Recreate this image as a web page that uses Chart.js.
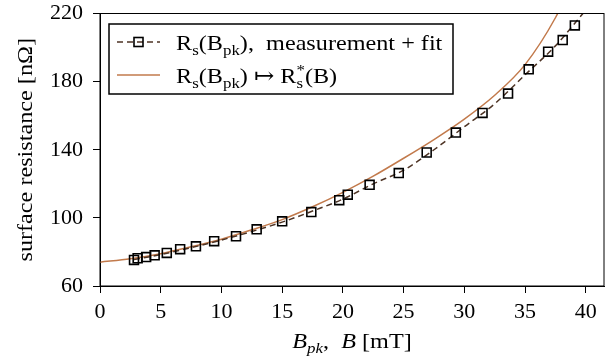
<!DOCTYPE html>
<html>
<head>
<meta charset="utf-8">
<script src="https://cdn.jsdelivr.net/npm/chart.js@4"></script>
<style>
  body { margin: 0; background: #fff; }
  canvas { display: block; }
</style>
</head>
<body>
<canvas id="myChart" width="605" height="360"></canvas>
<script>
// measured surface resistance (squares)
var measB = [2.8, 3.1, 3.8, 4.5, 5.5, 6.6, 7.9, 9.4, 11.2, 12.9, 15.0, 17.4, 19.7, 20.4, 22.2, 24.6, 26.9, 29.3, 31.5, 33.6, 35.3, 36.9, 38.1, 39.1];
var measRs = [75.3, 76.3, 77, 78, 79.4, 81.6, 83.3, 86.3, 89.2, 93.3, 98, 103.4, 110.4, 113.6, 119.4, 126.3, 138.4, 150.1, 161.6, 173, 187.2, 197.6, 204.4, 213];

// fit through the measurement (dashed)
var fitB = [2.8, 5, 7.5, 10, 12.5, 15, 17.5, 20, 22.5, 25, 27.5, 30, 32.5, 35, 37.5, 40];
var fitRs = [75.5, 78.5, 82.5, 87, 92, 97.5, 104, 111, 120, 128, 140, 153.5, 167, 184, 201, 222];

// mapped curve Rs*(B) (solid)
var mapB = [0, 2.5, 5, 7.5, 10, 12.5, 15, 17.5, 20, 22.5, 25, 27.5, 30, 32.5, 35, 37.5, 39];
var mapRs = [74, 76, 79, 83, 87.5, 93, 99, 106.5, 115, 124.5, 135, 146, 158, 172, 190, 217.5, 240];

var xTicks = [0, 5, 10, 15, 20, 25, 30, 35, 40];
var yTicks = [60, 100, 140, 180, 220];

var fitColor = '#4d3324';
var mapColor = '#c27a4c';
var serif = '"Liberation Serif", "DejaVu Serif", serif';
var fontSize = 22;
var stretch = 1.1; // Liberation is narrower than the original's font

function pts(xs, ys) {
  let out = [];
  for (let i = 0; i < xs.length; i++) out.push({x: xs[i], y: ys[i]});
  return out;
}

// draws text made of pieces, some of them sub/superscript or italic
function drawRich(ctx, parts, x, y, size) {
  ctx.textBaseline = 'alphabetic';
  ctx.textAlign = 'left';
  for (let p of parts) {
    let it = p.it ? 'italic ' : '';
    if (p.s == 'sub' || p.s == 'sup') {
      let sz = size * 0.7;
      ctx.font = it + sz + 'px ' + serif;
      let dy = p.s == 'sub' ? size * 0.22 : -size * 0.38;
      ctx.fillText(p.t, x, y + dy);
      x += ctx.measureText(p.t).width;
    } else if (p.s == 'supsub') {
      let sz = size * 0.7;
      ctx.font = it + sz + 'px ' + serif;
      ctx.fillText(p.t[0], x, y - size * 0.38);
      ctx.fillText(p.t[1], x, y + size * 0.22);
      x += Math.max(ctx.measureText(p.t[0]).width, ctx.measureText(p.t[1]).width);
    } else {
      ctx.font = it + size + 'px ' + serif;
      ctx.fillText(p.t, x, y);
      x += ctx.measureText(p.t).width;
    }
  }
  return x;
}

function richWidth(ctx, parts, size) {
  ctx.save();
  ctx.globalAlpha = 0;
  let w = drawRich(ctx, parts, 0, -1000, size);
  ctx.restore();
  return w;
}

function drawStretched(ctx, parts, x, y, size) {
  ctx.save();
  ctx.translate(x, y);
  ctx.scale(stretch, 1);
  drawRich(ctx, parts, 0, 0, size);
  ctx.restore();
}

var legendRow1 = [{t: 'R'}, {t: 's', s: 'sub'}, {t: '(B'}, {t: 'pk', s: 'sub'}, {t: '),  measurement + fit'}];
var legendRow2 = [{t: 'R'}, {t: 's', s: 'sub'}, {t: '(B'}, {t: 'pk', s: 'sub'}, {t: ') \u21A6 R'}, {t: ['*', 's'], s: 'supsub'}, {t: '(B)'}];
var xTitle = [{t: 'B', it: true}, {t: 'pk', s: 'sub', it: true}, {t: ',  '}, {t: 'B', it: true}, {t: ' [mT]'}];

var extras = {
  id: 'extras',
  afterDraw(chart) {
    let ctx = chart.ctx;
    let a = chart.chartArea;
    ctx.save();
    // frame round the plot
    ctx.strokeStyle = '#000';
    ctx.lineWidth = 1;
    ctx.strokeRect(a.left, a.top, a.right - a.left, a.bottom - a.top);

    // legend box
    ctx.fillStyle = '#fff';
    ctx.fillRect(109, 24, 344, 70);
    ctx.lineWidth = 1.5;
    ctx.strokeRect(109, 24, 344, 70);

    ctx.lineWidth = 1.5;
    ctx.strokeStyle = fitColor;
    ctx.setLineDash([6, 4]);
    ctx.beginPath(); ctx.moveTo(117, 42); ctx.lineTo(160, 42); ctx.stroke();
    ctx.setLineDash([]);
    ctx.strokeStyle = '#000';
    ctx.lineWidth = 1.6;
    ctx.strokeRect(134, 37.5, 9, 9);
    ctx.strokeStyle = mapColor;
    ctx.lineWidth = 1.5;
    ctx.beginPath(); ctx.moveTo(117, 75); ctx.lineTo(160, 75); ctx.stroke();

    ctx.fillStyle = '#000';
    drawStretched(ctx, legendRow1, 176, 50, fontSize);
    drawStretched(ctx, legendRow2, 176, 83, fontSize);

    // axis titles
    let w = richWidth(ctx, xTitle, fontSize) * stretch;
    ctx.fillStyle = '#000';
    drawStretched(ctx, xTitle, (a.left + a.right) / 2 - w / 2, 348, fontSize);

    ctx.translate(32, (a.top + a.bottom) / 2);
    ctx.rotate(-Math.PI / 2);
    ctx.scale(stretch, 1);
    ctx.font = fontSize + 'px ' + serif;
    ctx.textAlign = 'center';
    ctx.textBaseline = 'alphabetic';
    ctx.fillText('surface resistance [n\u03A9]', 0, 0);
    ctx.restore();
  }
};

var myChart = document.getElementById('myChart');
var rsChart = new Chart(myChart, {
  type: 'scatter',
  data: {
    datasets: [{
      label: 'fit',
      data: pts(fitB, fitRs),
      showLine: true,
      borderColor: fitColor,
      borderWidth: 1.5,
      borderDash: [6, 4],
      pointRadius: 0,
      cubicInterpolationMode: 'monotone',
      order: 2
    }, {
      label: 'measurement',
      data: pts(measB, measRs),
      showLine: false,
      pointStyle: 'rect',
      pointRadius: 6.3,
      pointBorderWidth: 1.6,
      pointBorderColor: '#000',
      pointBackgroundColor: 'rgba(0,0,0,0)',
      order: 1
    }, {
      label: 'mapped',
      data: pts(mapB, mapRs),
      showLine: true,
      borderColor: mapColor,
      borderWidth: 1.5,
      pointRadius: 0,
      cubicInterpolationMode: 'monotone',
      order: 3
    }]
  },
  options: {
    responsive: false,
    animation: false,
    layout: { padding: { left: 0, top: 13.5, right: 1, bottom: 0 } },
    plugins: { legend: { display: false }, tooltip: { enabled: false } },
    scales: {
      x: {
        type: 'linear',
        min: 0, max: 41.5,
        afterBuildTicks: s => { s.ticks = xTicks.map(v => ({value: v})); },
        afterFit: s => { s.height = 360 - 286; s.paddingLeft = 0; s.paddingRight = 0; },
        grid: { drawOnChartArea: false, tickLength: 7, color: '#000', tickWidth: 1 },
        border: { display: true, color: '#000', width: 1 },
        ticks: { color: '#000', padding: 6, font: { family: serif, size: fontSize }, maxRotation: 0 }
      },
      y: {
        min: 60, max: 220,
        afterBuildTicks: s => { s.ticks = yTicks.map(v => ({value: v})); },
        afterFit: s => { s.width = 100; s.paddingTop = 0; s.paddingBottom = 0; },
        grid: { drawOnChartArea: false, tickLength: 7, color: '#000', tickWidth: 1 },
        border: { display: true, color: '#000', width: 1 },
        ticks: { color: '#000', padding: 10, font: { family: serif, size: fontSize } }
      }
    }
  },
  plugins: [extras, {
    // x labels still push the right edge in; pin the plot box
    id: 'pinArea',
    afterLayout(chart) {
      let a = chart.chartArea;
      let xs = chart.scales.x;
      if (a.right < 604) {
        a.right = 604;
        a.width = a.right - a.left;
        xs.right = 604;
        xs.width = xs.right - xs.left;
        xs.configure();
      }
    }
  }]
});
</script>
</body>
</html>
